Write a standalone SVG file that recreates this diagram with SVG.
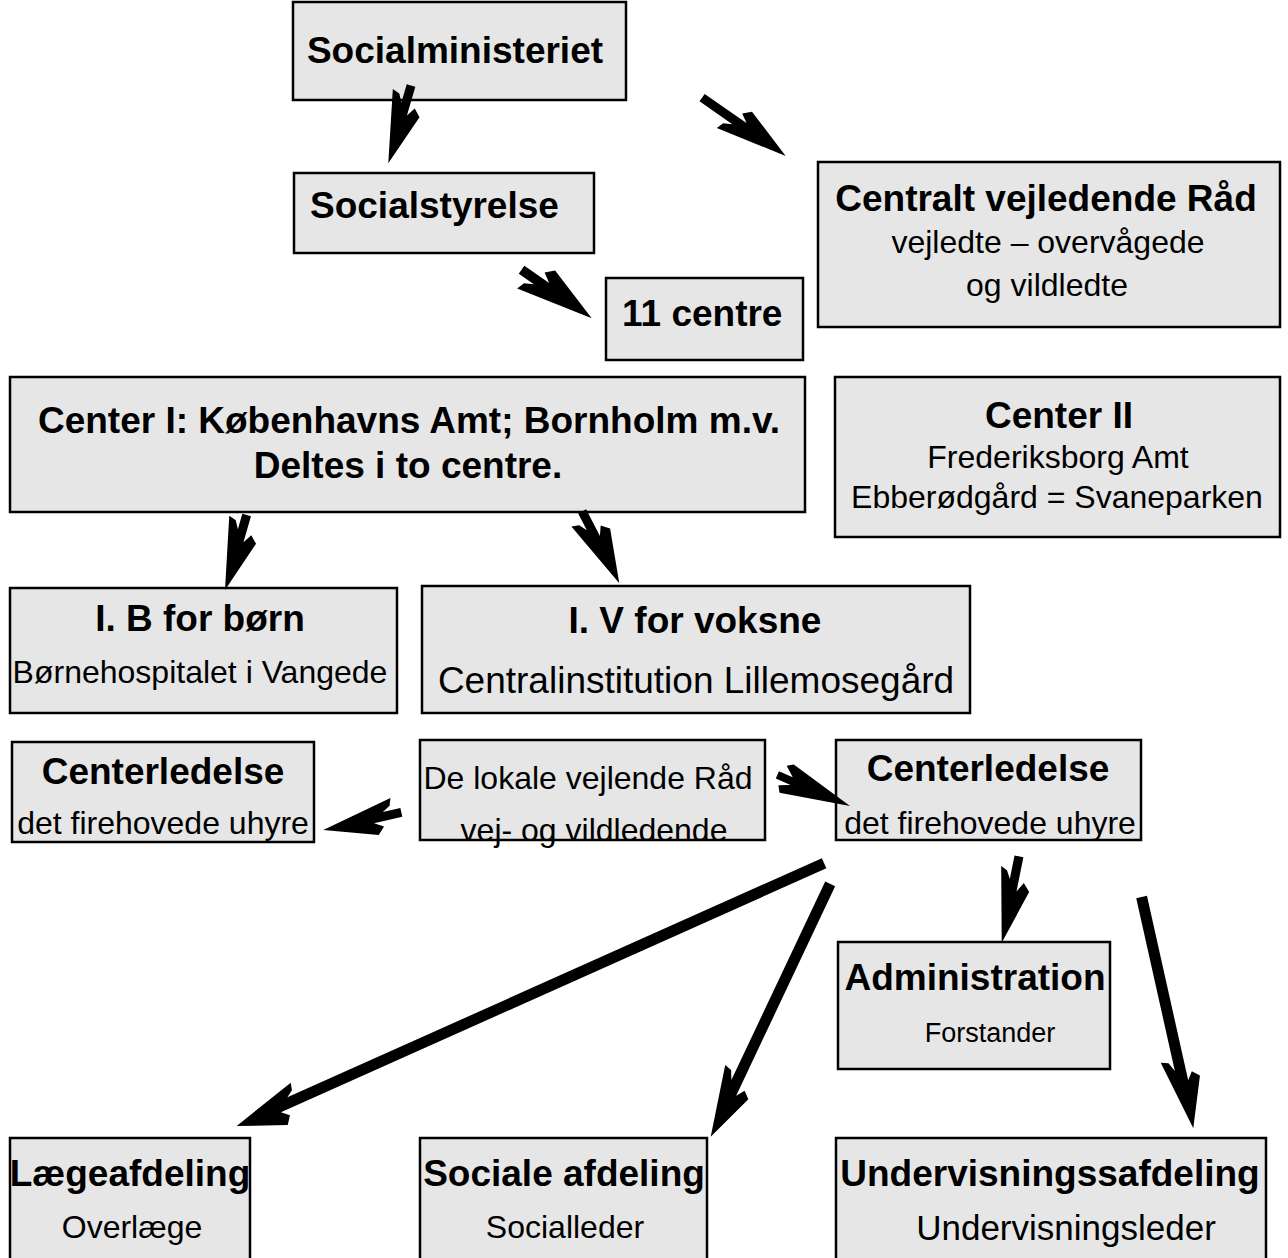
<svg xmlns="http://www.w3.org/2000/svg" width="1288" height="1258" viewBox="0 0 1288 1258">
<style>
.box{fill:#e6e6e6;stroke:#000;stroke-width:2.5}
text{font-family:"Liberation Sans",Arial,Helvetica,sans-serif;fill:#000}
.h{font-weight:bold;font-size:37px}
.r{font-size:32px}
.c{text-anchor:middle}
.arr{fill:#000;stroke:none}
</style>
<rect width="1288" height="1258" fill="#fff"/>
<g id="socialministeriet"><rect class="box" x="293" y="2" width="333" height="98"/><text class="h c" x="455" y="63">Socialministeriet</text></g>
<g id="socialstyrelse"><rect class="box" x="294" y="173" width="300" height="80"/><text class="h" x="310" y="218">Socialstyrelse</text></g>
<g id="centralt"><rect class="box" x="818" y="162" width="462" height="165"/><text class="h c" x="1046" y="211">Centralt vejledende Råd</text><text class="r c" x="1048" y="253">vejledte – overvågede</text><text class="r c" x="1047" y="296">og vildledte</text></g>
<g id="centre11"><rect class="box" x="606" y="278" width="197" height="82"/><text class="h" x="622" y="326">11 centre</text></g>
<g id="center1"><rect class="box" x="10" y="377" width="795" height="135"/><text class="h c" x="409" y="433">Center I: Københavns Amt; Bornholm m.v.</text><text class="h c" x="408" y="478">Deltes i to centre.</text></g>
<g id="center2"><rect class="box" x="835" y="377" width="445" height="160"/><text class="h c" x="1059" y="428">Center II</text><text class="r c" x="1058" y="468">Frederiksborg Amt</text><text class="r c" x="1057" y="508">Ebberødgård = Svaneparken</text></g>
<g id="ib"><rect class="box" x="10" y="588" width="387" height="125"/><text class="h c" x="200" y="631">I. B for børn</text><text class="r c" x="200" y="683">Børnehospitalet i Vangede</text></g>
<g id="iv"><rect class="box" x="422" y="586" width="548" height="127"/><text class="h c" x="695" y="633">I. V for voksne</text><text class="c" style="font-size:37px" x="696" y="693">Centralinstitution Lillemosegård</text></g>
<g id="centerledelse1"><rect class="box" x="12" y="742" width="302" height="100"/><text class="h c" x="163" y="784">Centerledelse</text><text class="r c" x="163" y="834">det firehovede uhyre</text></g>
<g id="lokale"><rect class="box" x="420" y="740" width="345" height="100"/><text class="r c" x="588" y="789">De lokale vejlende Råd</text><text class="r c" x="594" y="841">vej- og vildledende</text></g>
<g id="centerledelse2"><rect class="box" x="836" y="740" width="305" height="100"/><text class="h c" x="988" y="781">Centerledelse</text><text class="r c" x="990" y="834">det firehovede uhyre</text></g>
<g id="administration"><rect class="box" x="838" y="942" width="272" height="127"/><text class="h c" x="975" y="990">Administration</text><text class="c" style="font-size:27px" x="990" y="1042">Forstander</text></g>
<g id="laege"><rect class="box" x="10" y="1138" width="240" height="130"/><text class="h c" x="130" y="1186">Lægeafdeling</text><text class="r c" x="132" y="1238">Overlæge</text></g>
<g id="sociale"><rect class="box" x="420" y="1138" width="287" height="130"/><text class="h c" x="564" y="1186">Sociale afdeling</text><text class="r c" x="565" y="1238">Socialleder</text></g>
<g id="undervisning"><rect class="box" x="836" y="1138" width="430" height="130"/><text class="h c" x="1050" y="1186">Undervisningssafdeling</text><text class="c" style="font-size:35px" x="1066" y="1240">Undervisningsleder</text></g>
<g id="connectors" class="arr">
<path transform="translate(388.3,163.3) rotate(106.3)" d="M0,0 L-53,-17 L-60,-10 L-51,-4.5 L-81,-4.5 L-81,4.5 L-62,4.5 L-70,9 L-72.5,16.5 Z"/>
<path transform="translate(785.7,156) rotate(34.95)" d="M0,0 L-53,-17 L-60,-10 L-51,-4.5 L-102,-4.5 L-102,4.5 L-62,4.5 L-70,9 L-72.5,16.5 Z"/>
<path transform="translate(591.7,318.3) rotate(34.7) scale(1.08)" d="M0,0 L-53,-17 L-60,-10 L-51,-4.5 L-79,-4.5 L-79,4.5 L-62,4.5 L-70,9 L-72.5,16.5 Z"/>
<path transform="translate(225,590) rotate(106.1)" d="M0,0 L-53,-17 L-60,-10 L-51,-4.5 L-78,-4.5 L-78,4.5 L-62,4.5 L-70,9 L-72.5,16.5 Z"/>
<path transform="translate(619.3,583.3) rotate(62.7)" d="M0,0 L-53,-17 L-60,-10 L-51,-4.5 L-81,-4.5 L-81,4.5 L-62,4.5 L-70,9 L-72.5,16.5 Z"/>
<path transform="translate(323.3,830) rotate(167.3)" d="M0,0 L-53,-17 L-60,-10 L-51,-4.5 L-80,-4.5 L-80,4.5 L-62,4.5 L-70,9 L-72.5,16.5 Z"/>
<path transform="translate(850,806) rotate(23.15)" d="M0,0 L-68,-16 L-74,-12 L-64,-4 L-79,-4 L-79,4 L-63,4 L-74,9 L-70,15.5 Z"/>
<path transform="translate(236.7,1126) rotate(155.9)" d="M0,0 L-47,-20 L-53,-12 L-46,-5.5 L-643.5,-5.5 L-643.5,5.5 L-58,5.5 L-65,10 L-67,17.5 Z"/>
<path transform="translate(710.7,1136.7) rotate(115.3)" d="M0,0 L-50,-18 L-56,-11 L-48,-5.5 L-279.6,-5.5 L-279.6,5.5 L-60,5.5 L-69,10 L-71,17.5 Z"/>
<path transform="translate(1001.7,942.7) rotate(101.3)" d="M0,0 L-55,-17 L-63,-10 L-53,-4.5 L-88,-4.5 L-88,4.5 L-64,4.5 L-72,9 L-75,15.5 Z"/>
<path transform="translate(1193.3,1128.3) rotate(77.4)" d="M0,0 L-50,-18 L-56,-11 L-48,-5.5 L-237,-5.5 L-237,5.5 L-60,5.5 L-69,10 L-71,17.5 Z"/>
</g>
</svg>
